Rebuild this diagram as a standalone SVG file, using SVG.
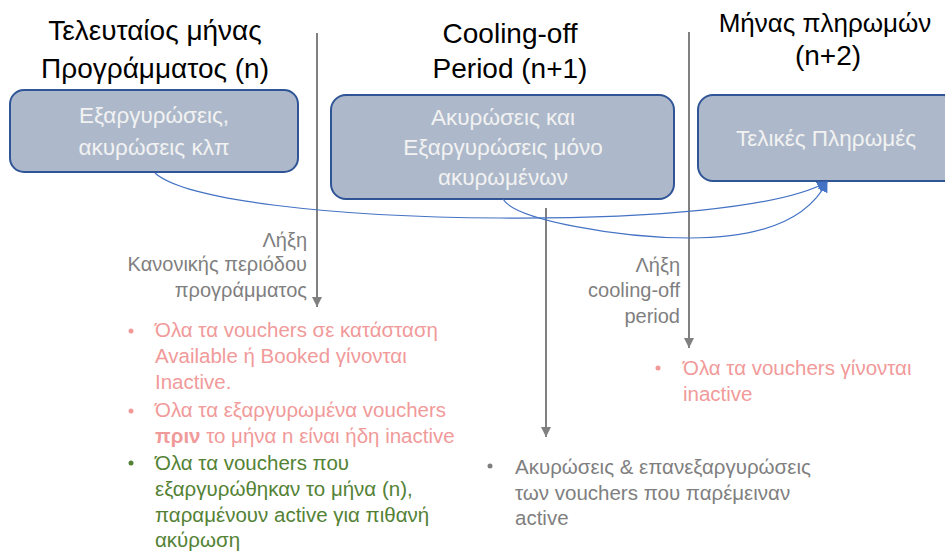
<svg xmlns="http://www.w3.org/2000/svg" width="945" height="555" viewBox="0 0 945 555">
<style>
text{font-family:"Liberation Sans",Arial,sans-serif}
.title{font-size:28px;fill:#000;text-anchor:middle}
.box{fill:#ADB9CA;stroke:#2F5597;stroke-width:2}
.bt{font-size:22.5px;fill:#F2F2F2;text-anchor:middle}
.lbl{font-size:20px;fill:#7F7F7F;text-anchor:end}
.vl{stroke:#808080;stroke-width:2;fill:none}
.cv{stroke:#4472C4;stroke-width:1.2;fill:none}
.red{font-size:20.5px;fill:#F19A9A}
.grn{font-size:20.5px;fill:#548235}
.gry{font-size:20.5px;fill:#7F7F7F}
</style>
<defs>
<marker id="ga" viewBox="0 0 10 10" refX="10" refY="5" markerWidth="5" markerHeight="5" orient="auto" markerUnits="strokeWidth"><path d="M0,0 L10,5 L0,10 z" fill="#808080"/></marker>
<marker id="ba" viewBox="0 0 10 10" refX="9" refY="5" markerWidth="11" markerHeight="11" orient="auto" markerUnits="userSpaceOnUse"><path d="M0,0 L10,5 L0,10 z" fill="#4472C4"/></marker>
</defs>
<g id="titles">
<text class="title" x="155" y="40">Τελευταίος μήνας</text>
<text class="title" x="155" y="78">Προγράμματος (n)</text>
<text class="title" x="510" y="43">Cooling-off</text>
<text class="title" x="510" y="78">Period (n+1)</text>
<text class="title" x="825" y="32" style="font-size:26px">Μήνας πληρωμών</text>
<text class="title" x="828" y="65">(n+2)</text>
</g>
<g id="node-1">
<rect class="box" x="10" y="90" width="288" height="82" rx="14"/>
<text class="bt" x="154" y="123">Εξαργυρώσεις,</text>
<text class="bt" x="154" y="155">ακυρώσεις κλπ</text>
</g>
<g id="node-2">
<rect class="box" x="331" y="95" width="343" height="104" rx="15"/>
<text class="bt" x="503" y="125">Ακυρώσεις και</text>
<text class="bt" x="503" y="155">Εξαργυρώσεις μόνο</text>
<text class="bt" x="503" y="185">ακυρωμένων</text>
</g>
<g id="node-3">
<rect class="box" x="698" y="95" width="260" height="86" rx="15"/>
<text class="bt" x="826" y="146">Τελικές Πληρωμές</text>
</g>
<g id="connectors">
<line class="vl" x1="317" y1="33" x2="317" y2="307" marker-end="url(#ga)"/>
<line class="vl" x1="546" y1="208" x2="546" y2="437" marker-end="url(#ga)"/>
<line class="vl" x1="689" y1="32" x2="689" y2="348" marker-end="url(#ga)"/>
<path class="cv" d="M155,173 C185,200 330,217 500,218 C650,219 780,208 827,182" marker-end="url(#ba)"/>
<path class="cv" d="M503,199 C515,220 620,238 690,238 C770,238 810,215 827,182" marker-end="url(#ba)"/>
</g>
<g id="label-1">
<text class="lbl" x="307" y="247">Λήξη</text>
<text class="lbl" x="307" y="271">Κανονικής περιόδου</text>
<text class="lbl" x="307" y="297">προγράμματος</text>
</g>
<g id="label-2">
<text class="lbl" x="680" y="272">Λήξη</text>
<text class="lbl" x="680" y="297">cooling-off</text>
<text class="lbl" x="680" y="323">period</text>
</g>
<g id="bullets-left">
<circle cx="131" cy="331" r="2.5" fill="#F19A9A"/>
<circle cx="131" cy="411" r="2.5" fill="#F19A9A"/>
<circle cx="131" cy="463" r="2.5" fill="#548235"/>
<text class="red" x="155" y="337">Όλα τα vouchers σε κατάσταση</text>
<text class="red" x="155" y="363">Available ή Booked γίνονται</text>
<text class="red" x="155" y="389">Inactive.</text>
<text class="red" x="155" y="417">Όλα τα εξαργυρωμένα vouchers</text>
<text class="red" x="155" y="443"><tspan font-weight="bold">πριν</tspan> το μήνα n είναι ήδη inactive</text>
<text class="grn" x="155" y="470">Όλα τα vouchers που</text>
<text class="grn" x="155" y="496">εξαργυρώθηκαν το μήνα (n),</text>
<text class="grn" x="155" y="522">παραμένουν active για πιθανή</text>
<text class="grn" x="155" y="547">ακύρωση</text>
</g>
<g id="bullets-middle">
<circle cx="490" cy="466" r="2.5" fill="#7F7F7F"/>
<text class="gry" x="515" y="474">Ακυρώσεις &amp; επανεξαργυρώσεις</text>
<text class="gry" x="515" y="500">των vouchers που παρέμειναν</text>
<text class="gry" x="515" y="525">active</text>
</g>
<g id="bullets-right">
<circle cx="658" cy="368" r="2.5" fill="#F19A9A"/>
<text class="red" x="683" y="375">Όλα τα vouchers γίνονται</text>
<text class="red" x="683" y="401">inactive</text>
</g>
</svg>
